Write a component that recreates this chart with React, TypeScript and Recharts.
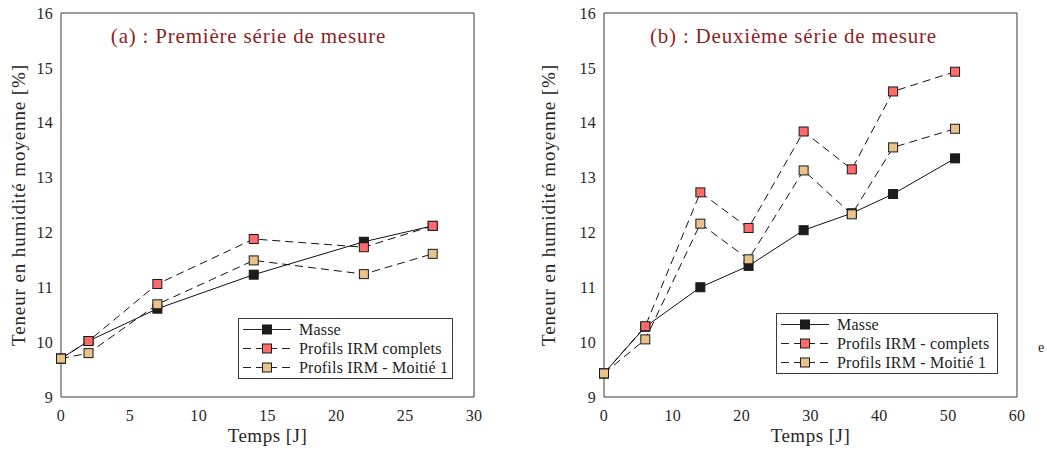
import React from 'react';
import { LineChart, Line, XAxis, YAxis, Label } from 'recharts';

// Série (a)
const tempsA = [0, 2, 7, 14, 22, 27];
const masseA = [9.7, 10.02, 10.61, 11.23, 11.83, 12.12];
const completsA = [9.7, 10.02, 11.06, 11.88, 11.73, 12.12];
const moitieA = [9.7, 9.8, 10.69, 11.49, 11.24, 11.61];

// Série (b)
const tempsB = [0, 6, 14, 21, 29, 36, 42, 51];
const masseB = [9.43, 10.28, 11.0, 11.39, 12.04, 12.35, 12.7, 13.35];
const completsB = [9.43, 10.29, 12.73, 12.08, 13.84, 13.15, 14.57, 14.93];
const moitieB = [9.43, 10.05, 12.16, 11.51, 13.13, 12.33, 13.55, 13.89];

const yTicks = [9, 10, 11, 12, 13, 14, 15, 16];
const xTicksA = [0, 5, 10, 15, 20, 25, 30];
const xTicksB = [0, 10, 20, 30, 40, 50, 60];

const legendA = ['Masse', 'Profils IRM complets', 'Profils IRM - Moitié 1'];
const legendB = ['Masse', 'Profils IRM - complets', 'Profils IRM - Moitié 1'];

const FONT = '"Liberation Serif", "DejaVu Serif", serif';
const AXIS = '#3a3a3a';
const COLORS = ['#1c1c1c', '#ff6b6b', '#e8c48c'];
const DASH = [undefined, '8 5', '8 5'];

const Square = (fill: string) => (props: any) => {
  const { cx, cy, index } = props;
  if (cx == null || cy == null) return <g key={index} />;
  return (
    <rect key={index} x={cx - 4.5} y={cy - 4.5} width={9} height={9}
      fill={fill} stroke="#1a1a1a" strokeWidth={1} />
  );
};

const LegendBox = ({ labels, left, top, width }: { labels: string[]; left: number; top: number; width: number }) => (
  <div style={{
    position: 'absolute', left, top, width, border: `1px solid ${AXIS}`, background: '#fff',
    fontFamily: FONT, fontSize: 16, letterSpacing: 0.2, color: '#222', padding: '1px 0', boxSizing: 'border-box',
  }}>
    {labels.map((l, i) => (
      <div key={l} style={{ display: 'flex', alignItems: 'center', height: 19 }}>
        <svg width={60} height={19} style={{ flex: 'none' }}>
          <line x1={4} x2={52} y1={9.5} y2={9.5} stroke="#222" strokeWidth={1} strokeDasharray={DASH[i]} />
          <rect x={23.5} y={5} width={9} height={9} fill={COLORS[i]} stroke="#1a1a1a" />
        </svg>
        <span style={{ whiteSpace: 'nowrap' }}>{l}</span>
      </div>
    ))}
  </div>
);

type PanelProps = {
  temps: number[];
  series: number[][];
  xTicks: number[];
  xMax: number;
  width: number;
  yAxisWidth: number;
  marginRight: number;
};

const Panel = ({ temps, series, xTicks, xMax, width, yAxisWidth, marginRight }: PanelProps) => {
  const data = temps.map((t, i) => ({ t, s0: series[0][i], s1: series[1][i], s2: series[2][i] }));
  const tickStyle = { fill: '#262626', fontSize: 16, fontFamily: FONT, letterSpacing: 0.3 };
  return (
    <LineChart width={width} height={450} data={data}
      margin={{ top: 13, right: marginRight, left: 0, bottom: 0 }}>
      <XAxis xAxisId="main" dataKey="t" type="number" domain={[0, xMax]} ticks={xTicks}
        tick={tickStyle} tickLine={false} tickSize={0} tickMargin={13} height={53}
        axisLine={{ stroke: AXIS }}>
        <Label value="Temps [J]" position="insideBottom" offset={8}
          style={{ fontSize: 19, letterSpacing: 0.5, fontFamily: FONT, fill: '#262626' }} />
      </XAxis>
      <XAxis xAxisId="bot" dataKey="t" type="number" domain={[0, xMax]} ticks={xTicks}
        orientation="bottom" mirror tick={false} tickSize={5} tickLine={{ stroke: AXIS }} axisLine={false} />
      <XAxis xAxisId="top" dataKey="t" type="number" domain={[0, xMax]} ticks={xTicks}
        orientation="top" mirror tick={false} tickSize={5} tickLine={{ stroke: AXIS }} axisLine={{ stroke: AXIS }} />
      <YAxis yAxisId="main" type="number" domain={[9, 16]} ticks={yTicks} width={yAxisWidth}
        tick={tickStyle} tickLine={false} tickSize={0} tickMargin={8} axisLine={{ stroke: AXIS }}>
        <Label value="Teneur en humidité moyenne [%]" angle={-90} position="insideLeft" offset={18}
          style={{ fontSize: 19, letterSpacing: 0.9, fontFamily: FONT, fill: '#262626', textAnchor: 'middle' }} />
      </YAxis>
      <YAxis yAxisId="left" type="number" domain={[9, 16]} ticks={yTicks}
        orientation="left" mirror tick={false} tickSize={5} tickLine={{ stroke: AXIS }} axisLine={false} />
      <YAxis yAxisId="right" type="number" domain={[9, 16]} ticks={yTicks}
        orientation="right" mirror tick={false} tickSize={5} tickLine={{ stroke: AXIS }} axisLine={{ stroke: AXIS }} />
      {[0, 1, 2].map((k) => (
        <Line key={k} xAxisId="main" yAxisId="main" dataKey={`s${k}`} type="linear"
          stroke="#111" strokeWidth={1} strokeDasharray={DASH[k]}
          dot={Square(COLORS[k])} activeDot={false} isAnimationActive={false} />
      ))}
    </LineChart>
  );
};

const titleStyle: React.CSSProperties = {
  position: 'absolute', width: 413, top: 24, textAlign: 'center',
  fontFamily: FONT, fontSize: 21, letterSpacing: 0.8, color: '#8e1f1f', whiteSpace: 'nowrap',
};

export default function App() {
  return (
    <div style={{ position: 'absolute', left: 0, top: 0, width: 1047, height: 450, background: '#fff' }}>
      <div style={{ position: 'absolute', left: 0, top: 0 }}>
        <Panel temps={tempsA} series={[masseA, completsA, moitieA]} xTicks={xTicksA} xMax={30}
          width={530} yAxisWidth={61} marginRight={56} />
      </div>
      <div style={{ position: 'absolute', left: 530, top: 0 }}>
        <Panel temps={tempsB} series={[masseB, completsB, moitieB]} xTicks={xTicksB} xMax={60}
          width={517} yAxisWidth={74} marginRight={30} />
      </div>
      <div style={{ ...titleStyle, left: 42 }}>(a) : Première série de mesure</div>
      <div style={{ ...titleStyle, left: 587 }}>(b) : Deuxième série de mesure</div>
      <LegendBox labels={legendA} left={238} top={318} width={215} />
      <LegendBox labels={legendB} left={776} top={313} width={222} />
      <div style={{ position: 'absolute', left: 1038, top: 340, fontFamily: FONT, fontSize: 14, color: '#222' }}>e</div>
    </div>
  );
}
